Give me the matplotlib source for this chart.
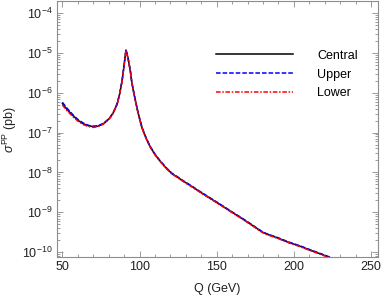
import numpy as np
import matplotlib
matplotlib.use("Agg")
import matplotlib.pyplot as plt
from matplotlib.ticker import MultipleLocator, FixedLocator, NullFormatter

plt.rcParams['font.family'] = ['Liberation Sans', 'DejaVu Sans']
plt.rcParams['mathtext.fontset'] = 'custom'
plt.rcParams['mathtext.rm'] = 'Liberation Sans'
plt.rcParams['mathtext.it'] = 'Liberation Sans:italic'
plt.rcParams['mathtext.sf'] = 'Liberation Sans'

# data (log10 of sigma in pb)
q = [50, 53, 57, 60, 63.5, 67, 70, 73, 76.5, 79, 81, 83, 85.5, 87, 88.7,
     90, 91.2, 92, 92.6, 94, 95, 96.5, 98.4, 100, 101.6, 104, 106.8, 110,
     113, 117, 121, 125, 128, 133, 137.7, 145, 152, 160, 167, 174, 179.3,
     182, 190, 197, 204, 210, 217, 224.5, 230]
log_central = [-6.27, -6.42, -6.58, -6.69, -6.78, -6.83, -6.85, -6.84, -6.78,
               -6.70, -6.62, -6.50, -6.28, -6.05, -5.70, -5.30, -4.93, -5.05,
               -5.15, -5.45, -5.75, -6.05, -6.40, -6.65, -6.88, -7.12, -7.35,
               -7.55, -7.70, -7.88, -8.03, -8.13, -8.21, -8.33, -8.45, -8.63,
               -8.80, -9.00, -9.17, -9.35, -9.49, -9.54, -9.65, -9.76, -9.85,
               -9.94, -10.04, -10.15, -10.23]
log_upper = [-6.24, -6.39, -6.56, -6.67, -6.76, -6.82, -6.84, -6.83, -6.77,
             -6.69, -6.61, -6.49, -6.27, -6.04, -5.69, -5.29, -4.92, -5.04,
             -5.14, -5.44, -5.74, -6.04, -6.39, -6.64, -6.87, -7.11, -7.34,
             -7.54, -7.69, -7.87, -8.02, -8.12, -8.20, -8.32, -8.44, -8.62,
             -8.79, -8.99, -9.16, -9.34, -9.48, -9.53, -9.64, -9.75, -9.84,
             -9.93, -10.03, -10.14, -10.22]
log_lower = [-6.31, -6.45, -6.61, -6.71, -6.80, -6.85, -6.87, -6.85, -6.79,
             -6.71, -6.63, -6.51, -6.29, -6.06, -5.71, -5.31, -4.94, -5.06,
             -5.16, -5.46, -5.76, -6.06, -6.41, -6.66, -6.89, -7.13, -7.36,
             -7.56, -7.71, -7.89, -8.04, -8.14, -8.22, -8.34, -8.46, -8.64,
             -8.81, -9.01, -9.18, -9.36, -9.50, -9.55, -9.66, -9.77, -9.86,
             -9.95, -10.05, -10.16, -10.24]
y_decades = [-10, -9, -8, -7, -6, -5, -4]

fig = plt.figure(figsize=(3.82, 2.96), dpi=100)
ax = fig.add_axes([57 / 382, 1 - 257 / 296, 321 / 382, 256 / 296])

ax.plot(q, 10 ** np.array(log_central), color='black', lw=1.1, label='Central')
ax.plot(q, 10 ** np.array(log_upper), color='#0000ff', lw=1.1,
        dashes=(3.0, 1.3), label='Upper')
ax.plot(q, 10 ** np.array(log_lower), color='#ff0000', lw=1.1,
        dashes=(3.0, 1.1, 1.0, 1.1), label='Lower')

ax.set_yscale('log')
ax.set_xlim(46.5, 254.5)
ax.set_ylim(10 ** -10.12, 10 ** -3.7)

ax.xaxis.set_major_locator(MultipleLocator(50))
ax.xaxis.set_minor_locator(MultipleLocator(10))
ax.yaxis.set_major_locator(FixedLocator([10.0 ** d for d in y_decades]))
minors = [m * 10.0 ** d for d in [-11] + y_decades for m in range(2, 10)]
minors = [v for v in minors if 10 ** -10.12 <= v <= 10 ** -3.7]
ax.yaxis.set_minor_locator(FixedLocator(minors))
ax.yaxis.set_minor_formatter(NullFormatter())
ax.set_yticklabels([r'$10^{%d}$' % d for d in y_decades])

frame_col = '#8c8c8c'
for s in ax.spines.values():
    s.set_color(frame_col)
    s.set_linewidth(0.8)
ax.tick_params(which='both', direction='in', top=True, right=True,
               color=frame_col, labelsize=9, labelcolor='#222222', width=0.6)
ax.tick_params(which='major', length=4, pad=3)
ax.tick_params(which='minor', length=2)

ax.set_xlabel('Q (GeV)', fontsize=9, color='#222222', labelpad=7)
ax.set_ylabel(r'$\sigma^{\rm PP}$ (pb)', fontsize=9, color='#222222', labelpad=2)

leg = ax.legend(loc='upper left', bbox_to_anchor=(0.495, 0.81), frameon=False,
                fontsize=9, handlelength=6.2, handletextpad=1.9,
                labelspacing=0.55, borderpad=0, borderaxespad=0)

fig.savefig('out.png', dpi=100)
